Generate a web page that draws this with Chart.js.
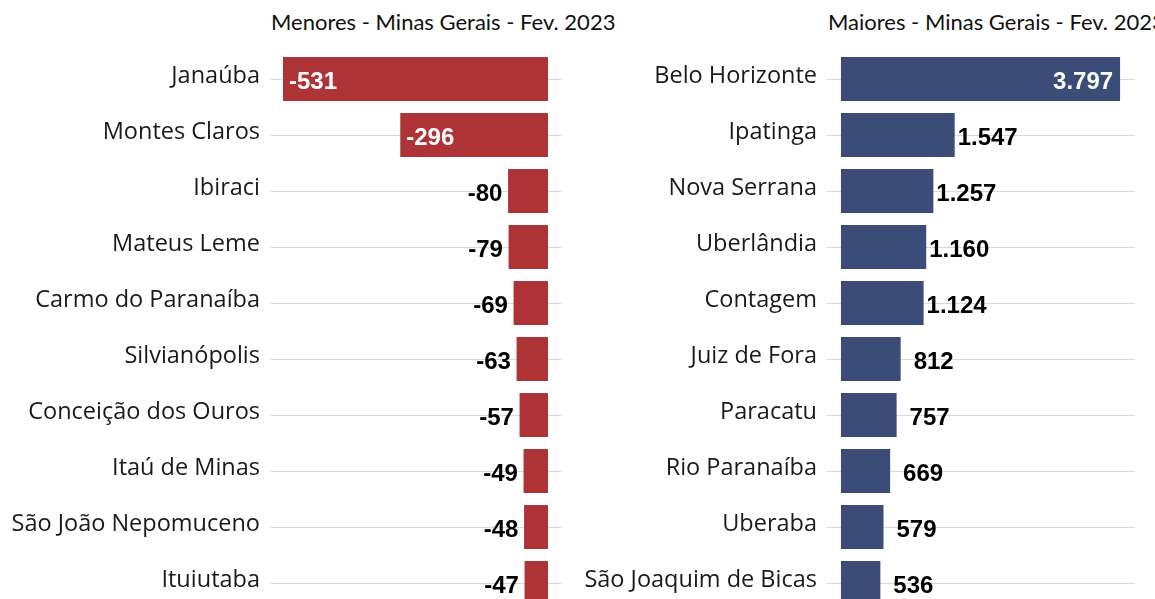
<!DOCTYPE html>
<html>
<head>
<meta charset="utf-8">
<script src="https://cdn.jsdelivr.net/npm/chart.js@4.4.1/dist/chart.umd.min.js"></script>
<style>
  html, body { margin: 0; padding: 0; background: #fff; overflow: hidden; }
  body { width: 1155px; height: 599px; position: relative; }
  .sub { position: absolute; top: 8px; font-family: Lato, "Open Sans", sans-serif; font-size: 22px; color: #111; white-space: nowrap; }
  .box { position: absolute; top: 0; height: 640px; }
</style>
</head>
<body>
<div class="sub" id="subMenores" style="left:271px;">Menores - Minas Gerais - Fev. 2023</div>
<div class="sub" id="subMaiores" style="left:828px;">Maiores - Minas Gerais - Fev. 2023</div>
<div class="box" style="left:0; width:575px;"><canvas id="menoresChart"></canvas></div>
<div class="box" style="left:575px; width:580px;"><canvas id="maioresChart"></canvas></div>
<script>
// Saldo de empregos - Minas Gerais - Fev. 2023
var menoresCidades = ['Janaúba', 'Montes Claros', 'Ibiraci', 'Mateus Leme', 'Carmo do Paranaíba',
    'Silvianópolis', 'Conceição dos Ouros', 'Itaú de Minas', 'São João Nepomuceno', 'Ituiutaba'];
var menoresSaldo = [-531, -296, -80, -79, -69, -63, -57, -49, -48, -47];

var maioresCidades = ['Belo Horizonte', 'Ipatinga', 'Nova Serrana', 'Uberlândia', 'Contagem',
    'Juiz de Fora', 'Paracatu', 'Rio Paranaíba', 'Uberaba', 'São Joaquim de Bicas'];
var maioresSaldo = [3797, 1547, 1257, 1160, 1124, 812, 757, 669, 579, 536];

// rótulos de valor (dentro da barra se for longa, senão fora)
var valueLabels = {
    id: 'valueLabels',
    afterDatasetsDraw: function (chart, args, opts) {
        var ctx = chart.ctx;
        var values = chart.data.datasets[0].data;
        var meta = chart.getDatasetMeta(0);
        ctx.save();
        ctx.font = 'bold 24px "Liberation Sans", Arial, sans-serif';
        ctx.textAlign = 'center';
        ctx.textBaseline = 'middle';
        meta.data.forEach(function (bar, i) {
            var v = values[i];
            var dir = v < 0 ? -1 : 1;
            var inside = Math.abs(bar.x - bar.base) > 130;
            var x, color;
            if (inside) {
                x = bar.x - dir * opts.offIn;
                color = '#fff';
            } else {
                x = bar.x + dir * opts.offOut;
                color = '#000';
            }
            ctx.fillStyle = color;
            ctx.fillText(Number(v).toLocaleString('pt-BR'), x, bar.y + 3);
        });
        ctx.restore();
    }
};

function makeChart(id, labels, values, color, xMin, xMax, axisWidth, padRight, offIn, offOut) {
    return new Chart(document.getElementById(id), {
        type: 'bar',
        data: {
            labels: labels,
            datasets: [{
                data: values,
                backgroundColor: color,
                borderWidth: 0,
                categoryPercentage: 1,
                barPercentage: 0.786
            }]
        },
        plugins: [valueLabels],
        options: {
            indexAxis: 'y',
            responsive: true,
            maintainAspectRatio: false,
            animation: false,
            layout: { padding: { top: 51, bottom: 29, left: 0, right: padRight } },
            plugins: {
                legend: { display: false },
                tooltip: { enabled: false },
                valueLabels: { offIn: offIn, offOut: offOut }
            },
            scales: {
                x: { display: false, min: xMin, max: xMax },
                y: {
                    grid: { color: '#d9d9d9', lineWidth: 1, offset: false, drawTicks: false },
                    border: { display: false },
                    ticks: {
                        color: '#1a1a1a',
                        padding: 10,
                        labelOffset: -3,
                        font: { family: '"Open Sans", sans-serif', size: 23.5 }
                    },
                    afterFit: function (scale) { scale.width = axisWidth; }
                }
            }
        }
    });
}

makeChart('menoresChart', menoresCidades, menoresSaldo, '#ad3337', -557, 28, 270, 13, 30, 23);
makeChart('maioresChart', maioresCidades, maioresSaldo, '#3b4c78', -190, 4000, 252, 20, 37, 33);
</script>
</body>
</html>
